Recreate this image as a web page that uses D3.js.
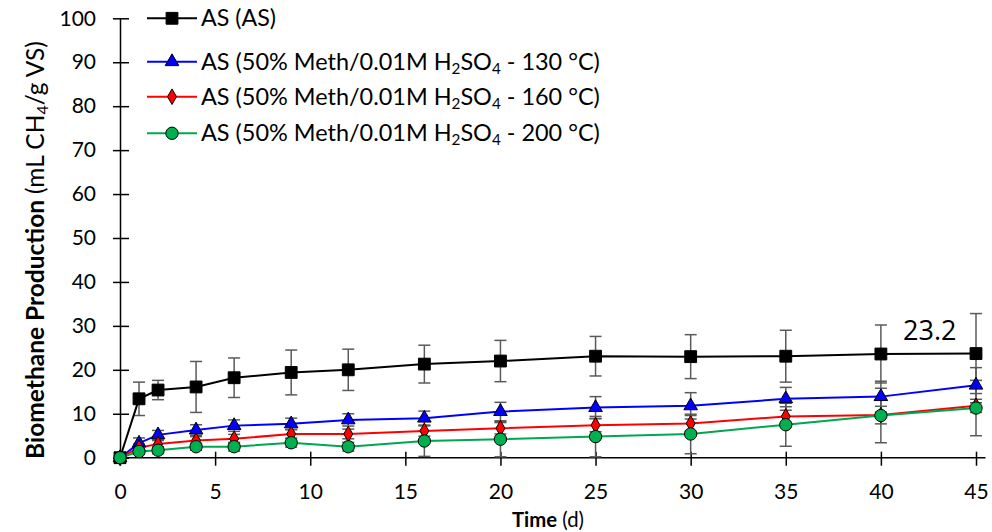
<!DOCTYPE html>
<html>
<head>
<meta charset="utf-8">
<script src="https://cdn.jsdelivr.net/npm/d3@7"></script>
<style>
  body { margin: 0; background: #fff; }
  svg { display: block; font-family: Lato, "Open Sans", sans-serif; }
</style>
</head>
<body>
<div id="chart"></div>
<script>
// sampling days
const days = [0, 1, 2, 4, 6, 9, 12, 16, 20, 25, 30, 35, 40, 45];

// series values (mL CH4/g VS) and their error bars
const asRaw    = [0, 13.4, 15.4, 16.1, 18.2, 19.4, 20.0, 21.3, 22.0, 23.1, 23.0, 23.1, 23.6, 23.7];
const asRawErr = [0, 3.8, 2.2, 5.8, 4.5, 5.1, 4.7, 4.3, 4.7, 4.5, 5.0, 5.9, 6.6, 9.1];
const as130    = [0, 3.3, 5.2, 6.3, 7.3, 7.7, 8.6, 9.0, 10.5, 11.4, 11.8, 13.4, 13.9, 16.5];
const as130Err = [0, 1.2, 1.0, 1.2, 1.3, 1.3, 1.4, 1.6, 2.1, 2.5, 3.0, 2.6, 3.5, 4.0];
const as160    = [0, 2.3, 3.1, 3.9, 4.3, 5.4, 5.4, 6.1, 6.7, 7.4, 7.8, 9.4, 9.7, 11.8];
const as160Err = [0, 0.8, 0.8, 0.9, 1.0, 1.0, 1.1, 1.2, 1.3, 1.5, 1.8, 2.2, 2.0, 1.5];
const as200    = [0, 1.4, 1.7, 2.5, 2.5, 3.4, 2.5, 3.8, 4.2, 4.8, 5.4, 7.5, 9.6, 11.3];
const as200Err = [0, 0.6, 0.8, 0.8, 1.0, 1.0, 1.0, 3.5, 4.0, 4.6, 4.5, 4.9, 6.2, 6.3];

const xTicks = [0, 5, 10, 15, 20, 25, 30, 35, 40, 45];
const yTicks = [0, 10, 20, 30, 40, 50, 60, 70, 80, 90, 100];
const finalLabel = "23.2";

const series = [
  { name: "AS (AS)", temp: null, values: asRaw, err: asRawErr, line: "#000000", fill: "#000000", shape: d3.symbolSquare, size: 140 },
  { name: "AS (50% Meth/0.01M ", temp: "130", values: as130, err: as130Err, line: "#0000ff", fill: "#0000ff", shape: d3.symbolTriangle, size: 80 },
  { name: "AS (50% Meth/0.01M ", temp: "160", values: as160, err: as160Err, line: "#ff0000", fill: "#ff0000", shape: d3.symbolDiamond, size: 70 },
  { name: "AS (50% Meth/0.01M ", temp: "200", values: as200, err: as200Err, line: "#00a650", fill: "#00b050", shape: d3.symbolCircle, size: 120 }
];

const W = 992, H = 532;
const x0 = 120, x45 = 976, yTop = 18.3, yBot = 457.7;

const svg = d3.select("#chart").append("svg")
  .attr("width", W).attr("height", H);

const x = d3.scaleLinear().domain([0, 45]).range([x0, x45]);
const y = d3.scaleLinear().domain([0, 100]).range([yBot, yTop]);

// fit a text element to a target width
function fit(sel, width) {
  const len = sel.node().getComputedTextLength();
  const fs = parseFloat(sel.attr("font-size"));
  sel.attr("font-size", fs * width / len);
}

// axes
const xAxis = svg.append("g")
  .attr("transform", "translate(0," + yBot + ")")
  .call(d3.axisBottom(x).tickValues(xTicks).tickSize(8).tickPadding(18).tickSizeOuter(0));
xAxis.select(".domain").attr("d", "M" + x0 + ",0H" + (x45 + 9.5)).attr("stroke-width", 1.5);
xAxis.selectAll(".tick line").attr("y1", -6).attr("y2", 8).attr("stroke-width", 1.5);
xAxis.selectAll(".tick text").attr("font-size", 21).attr("font-family", "Lato").attr("fill", "#000");

const yAxis = svg.append("g")
  .attr("transform", "translate(" + x0 + ",0)")
  .call(d3.axisLeft(y).tickValues(yTicks).tickSize(7).tickPadding(17).tickSizeOuter(0));
yAxis.select(".domain").attr("stroke-width", 1.5);
yAxis.selectAll(".tick line").attr("x1", 9).attr("x2", -7).attr("stroke-width", 1.5);
yAxis.selectAll(".tick text").attr("font-size", 21).attr("font-family", "Lato").attr("fill", "#000");

// error bars
const errG = svg.append("g");
series.forEach(s => {
  const g = errG.append("g").attr("stroke", "#5a5a5a").attr("stroke-width", 1.5).attr("fill", "none");
  days.forEach((d, i) => {
    if (!s.err[i]) return;
    const cx = x(d), top = y(s.values[i] + s.err[i]), bot = y(s.values[i] - s.err[i]);
    g.append("line").attr("x1", cx).attr("x2", cx).attr("y1", top).attr("y2", bot);
    g.append("line").attr("x1", cx - 6).attr("x2", cx + 6).attr("y1", top).attr("y2", top);
    g.append("line").attr("x1", cx - 6).attr("x2", cx + 6).attr("y1", bot).attr("y2", bot);
  });
});

// lines and markers
const line = d3.line()
  .x((d, i) => x(days[i]))
  .y(d => y(d));

series.forEach(s => {
  svg.append("path")
    .datum(s.values)
    .attr("d", line)
    .attr("fill", "none")
    .attr("stroke", s.line)
    .attr("stroke-width", 2);
});

series.forEach(s => {
  svg.append("g").selectAll("path")
    .data(s.values)
    .enter().append("path")
    .attr("d", d3.symbol().type(s.shape).size(s.size))
    .attr("transform", (d, i) => "translate(" + x(days[i]) + "," + y(d) + ")")
    .attr("fill", s.fill)
    .attr("stroke", "#000")
    .attr("stroke-width", 1);
});

// data label on final point
svg.append("text")
  .attr("x", 903).attr("y", 340)
  .attr("font-family", "Open Sans")
  .attr("font-size", 27)
  .attr("fill", "#000")
  .text(finalLabel);

// legend
const legRows = [18.3, 61.7, 96.7, 133.3];
series.forEach((s, i) => {
  const g = svg.append("g").attr("transform", "translate(0," + legRows[i] + ")");
  g.append("line").attr("x1", 147).attr("x2", 197).attr("y1", 0).attr("y2", 0)
    .attr("stroke", s.line).attr("stroke-width", 2);
  g.append("path").attr("d", d3.symbol().type(s.shape).size(s.size))
    .attr("transform", "translate(172,0)")
    .attr("fill", s.fill).attr("stroke", "#000").attr("stroke-width", 1);
  const t = g.append("text").attr("x", 201).attr("y", 8)
    .attr("font-family", "Lato").attr("font-size", 23).attr("fill", "#000");
  if (s.temp === null) {
    t.text(s.name);
    fit(t, 75);
  } else {
    t.append("tspan").text(s.name + "H");
    t.append("tspan").attr("font-size", "0.65em").attr("dy", 4).text("2");
    t.append("tspan").attr("dy", -4).text("SO");
    t.append("tspan").attr("font-size", "0.65em").attr("dy", 4).text("4");
    t.append("tspan").attr("dy", -4).text(" - " + s.temp + " \u00B0C)");
    fit(t, 399);
  }
});

// axis titles
const xt = svg.append("text")
  .attr("x", 548).attr("y", 527)
  .attr("text-anchor", "middle")
  .attr("font-family", "Lato").attr("font-size", 21).attr("fill", "#000");
xt.append("tspan").attr("font-weight", "bold").text("Time");
xt.append("tspan").text(" (d)");
fit(xt, 72);

const yt = svg.append("text")
  .attr("transform", "translate(43.5,250) rotate(-90)")
  .attr("text-anchor", "middle")
  .attr("font-family", "Lato").attr("font-size", 21).attr("fill", "#000");
yt.append("tspan").attr("font-weight", "bold").text("Biomethane Production ");
yt.append("tspan").text("(mL CH");
yt.append("tspan").attr("font-size", "0.65em").attr("dy", 4).text("4");
yt.append("tspan").attr("dy", -4).text("/g VS)");
fit(yt, 418);
</script>
</body>
</html>
